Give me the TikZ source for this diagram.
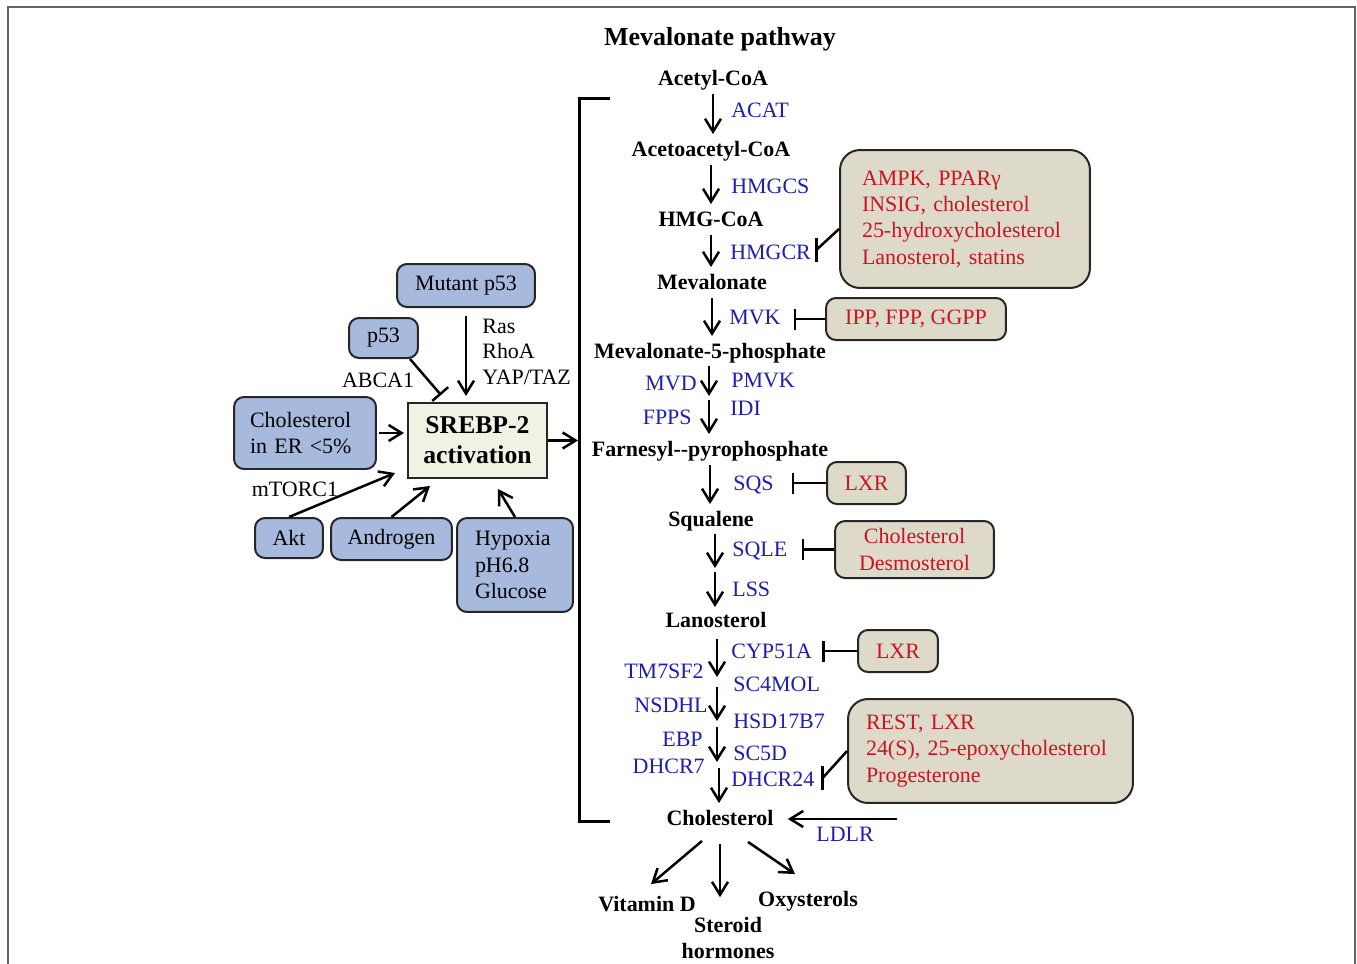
\documentclass[tikz,border=0pt]{standalone}
\usepackage{fontspec}
\setmainfont{Liberation Serif}
\usetikzlibrary{arrows.meta,calc}

\definecolor{enzblue}{RGB}{30,30,175}
\definecolor{inhred}{RGB}{200,20,35}
\definecolor{tanfill}{RGB}{222,218,202}
\definecolor{regblue}{RGB}{168,185,222}
\definecolor{srebpfill}{RGB}{242,242,228}
\definecolor{framegray}{RGB}{100,100,100}

\tikzset{
  met/.style={font=\fontsize{12.5}{15}\selectfont\bfseries, inner sep=0pt, text height=.75em, text depth=-.09em},
  enz/.style={text=enzblue, font=\fontsize{12.5}{15}\selectfont, inner sep=0pt, text height=.75em, text depth=-.09em},
  reg/.style={font=\fontsize{12.5}{14.5}\selectfont, inner sep=0pt},
  tanbox/.style={draw=black!85, line width=0.04cm, fill=tanfill, rounded corners=0.2cm, text=inhred, font=\fontsize{12.5}{15}\selectfont, inner sep=0pt},
  bluebox/.style={draw=black!85, line width=0.04cm, fill=regblue, rounded corners=0.2cm, font=\fontsize{12.5}{15}\selectfont, inner sep=0pt},
  conv/.style={-{Straight Barb[length=0.26cm,width=0.32cm]}, line width=0.05cm},
  inh/.style={-{Bar[width=0.42cm]}, line width=0.05cm},
}

\begin{document}
\begin{tikzpicture}[x=0.02cm,y=-0.02cm]
\useasboundingbox (0,0) rectangle (1357,964);
\draw[framegray, line width=0.04cm] (8,964) -- (8,7) -- (1355,7) -- (1355,964);

\node[font=\fontsize{14.8}{17}\selectfont\bfseries] (title) at (720,39) {Mevalonate pathway};

% pathway
\node[met] (acetyl) at (713,79) {Acetyl-CoA};
\node[met] (acac) at (711,150) {Acetoacetyl-CoA};
\node[met] (hmg) at (711,220) {HMG-CoA};
\node[met] (mev) at (712,283) {Mevalonate};
\node[met] (mfp) at (710,352) {Mevalonate-5-phosphate};
\node[met] (fpp) at (710,450) {Farnesyl-{}-pyrophosphate};
\node[met] (squal) at (711,520) {Squalene};
\node[met] (lano) at (716,621) {Lanosterol};
\node[met] (chol) at (720,819) {Cholesterol};
\node[met] (vitd) at (647,905) {Vitamin D};
\node[met] (oxy) at (808,900) {Oxysterols};
\node[font=\fontsize{12.5}{14.5}\selectfont\bfseries, inner sep=0pt, align=center] (steroid) at (728,938) {Steroid\\hormones};

\coordinate (k1) at (709,398);
\coordinate (k2) at (715,570);
\coordinate (k3) at (717,682);
\coordinate (k4) at (717,724);
\coordinate (k5) at (719,765);

\foreach \a/\b in {acetyl/acac,acac/hmg,hmg/mev,mev/mfp,fpp/squal}
  \draw[conv, shorten <=0.16cm, shorten >=0.18cm] (\a.south) -- (\a.south |- \b.north);
\draw[conv, shorten <=0.14cm, shorten >=0.04cm] (k1 |- mfp.south) -- (k1);
\draw[conv, shorten <=0.04cm, shorten >=0.18cm] (k1) -- (k1 |- fpp.north);
\draw[conv, shorten <=0.14cm, shorten >=0.04cm] (k2 |- squal.south) -- (k2);
\draw[conv, shorten <=0.04cm, shorten >=0.14cm] (k2) -- (k2 |- lano.north);
\draw[conv, shorten <=0.22cm, shorten >=0.1cm] (k3 |- lano.south) -- (k3);
\draw[conv, shorten <=0.1cm, shorten >=0.06cm] (k3) -- (k4);
\draw[conv, shorten <=0.06cm, shorten >=0.06cm] (k4) -- (k4 |- k5);
\draw[conv, shorten <=0.06cm, shorten >=0.18cm] (k5) -- (k5 |- chol.north);

% enzymes
\node[enz, anchor=west] (acat) at (731,111) {ACAT};
\node[enz, anchor=west] (hmgcs) at (731,187) {HMGCS};
\node[enz, anchor=west] (hmgcr) at (730,253) {HMGCR};
\node[enz, anchor=west] (mvk) at (729,318) {MVK};
\node[enz, anchor=east] (mvd) at (697,384) {MVD};
\node[enz, anchor=west] (pmvk) at (731,381) {PMVK};
\node[enz, anchor=east] (fpps) at (692,418) {FPPS};
\node[enz, anchor=west] (idi) at (730,409) {IDI};
\node[enz, anchor=west] (sqs) at (733,484) {SQS};
\node[enz, anchor=west] (sqle) at (732,550) {SQLE};
\node[enz, anchor=west] (lss) at (732,590) {LSS};
\node[enz, anchor=west] (cyp) at (731,652) {CYP51A};
\node[enz, anchor=east] (tm7) at (704,672) {TM7SF2};
\node[enz, anchor=west] (sc4) at (733,685) {SC4MOL};
\node[enz, anchor=east] (nsdhl) at (708,706) {NSDHL};
\node[enz, anchor=west] (hsd) at (733,722) {HSD17B7};
\node[enz, anchor=east] (ebp) at (703,740) {EBP};
\node[enz, anchor=west] (sc5) at (733,754) {SC5D};
\node[enz, anchor=east] (dhcr7) at (705,767) {DHCR7};
\node[enz, anchor=west] (dhcr24) at (731,780) {DHCR24};
\node[enz] (ldlr) at (845,835) {LDLR};

% inhibitors
\node[tanbox, rounded corners=0.4cm, align=left, text width=4.12cm, inner xsep=0.44cm, minimum height=2.76cm] (ampk) at (965,219)
  {AMPK, PPARγ\\INSIG, cholesterol\\25-hydroxycholesterol\\Lanosterol, statins};
\node[tanbox, minimum width=3.6cm, minimum height=0.84cm] (ipp) at (916,319) {IPP, FPP, GGPP};
\node[tanbox, minimum width=1.58cm, minimum height=0.84cm] (lxra) at (866.5,483) {LXR};
\node[tanbox, align=center, minimum width=3.18cm, minimum height=1.14cm] (chdes) at (914.5,549.5) {Cholesterol\\Desmosterol};
\node[tanbox, minimum width=1.6cm, minimum height=0.84cm] (lxrb) at (898,651) {LXR};
\node[tanbox, rounded corners=0.4cm, align=left, text width=4.98cm, inner xsep=0.36cm, minimum height=2.08cm] (rest) at (990.5,751)
  {REST, LXR\\24(S), 25-epoxycholesterol\\Progesterone};

\foreach \b/\e/\s in {ipp/mvk/0.26,lxra/sqs/0.36,chdes/sqle/0.28,lxrb/cyp/0.2}
  \draw[inh, shorten >=\s cm] (\b.west) -- (\e.east |- \b.west);

\coordinate (hb) at ($(hmgcr.east)+(5,-3)$);
\coordinate (db) at ($(dhcr24.east)+(8,-2)$);
\draw[line width=0.05cm] ([yshift=-0.2cm]ampk.west) -- (hb);
\draw[line width=0.05cm] ($(hb)+(0,-12)$) -- ($(hb)+(0,12)$);
\draw[line width=0.05cm] (rest.west) -- (db);
\draw[line width=0.05cm] ($(db)+(0,-12)$) -- ($(db)+(0,12)$);

% cholesterol uptake and products
\coordinate (ldin) at (897,819);
\draw[conv, shorten >=0.28cm] (ldin) -- (chol.east);
\draw[conv] ($(chol.south)+(-18,15)$) -- ($(vitd.north)+(4,-14)$);
\draw[conv, shorten <=0.36cm, shorten >=0.4cm] (chol.south) -- (chol.south |- steroid.north);
\draw[conv] ($(chol.south)+(28,16)$) -- ($(oxy.north)+(-13,-19)$);

% SREBP-2 regulation
\node[draw=black!85, line width=0.04cm, fill=srebpfill, minimum width=2.78cm, minimum height=1.5cm, align=center,
  font=\fontsize{14.6}{17}\selectfont\bfseries, inner sep=0pt] (srebp) at (477.5,440.5) {SREBP-2\\activation};
\node[bluebox, minimum width=2.76cm, minimum height=0.86cm] (mutp) at (466,285.5) {Mutant p53};
\node[bluebox, minimum width=1.38cm, minimum height=0.8cm] (pf) at (383.5,338) {p53};
\node[bluebox, align=left, text width=2.2cm, inner xsep=0.32cm, minimum height=1.44cm] (cher) at (305,433) {Cholesterol\\in ER <5\%};
\node[bluebox, minimum width=1.36cm, minimum height=0.8cm] (akt) at (289,538) {Akt};
\node[bluebox, minimum width=2.42cm, minimum height=0.84cm] (andro) at (391.5,539) {Androgen};
\node[bluebox, align=left, text width=1.6cm, inner xsep=0.36cm, minimum height=1.88cm] (hyp) at (515,565) {Hypoxia\\pH6.8\\Glucose};

\node[reg, anchor=west, align=left] (ras) at (482,351.5) {Ras\\RhoA\\YAP/TAZ};
\node[reg] (abca) at (378,380) {ABCA1};
\node[reg] (mtorc) at (295,489) {mTORC1};

\draw[conv, shorten <=0.16cm, shorten >=0.12cm] (mutp.south) -- (mutp.south |- srebp.north);
\draw[inh] ($(pf.south east)+(-9,0)$) -- ($(srebp.north)+(-36.5,-7)$);
\draw[conv, shorten <=0.04cm, shorten >=0.06cm] (cher.east) -- (cher.east -| srebp.west);
\draw[conv] (akt.north) -- ($(srebp.south west)+(-12,-6)$);
\draw[conv] (andro.north) -- ($(srebp.south)+(-47.5,7)$);
\draw[conv] (hyp.north) -- ($(srebp.south)+(20.5,10)$);

\coordinate (brt) at (610,98);
\coordinate (brm) at (579,440.5);
\coordinate (brb) at (610,821);
\draw[line width=0.06cm] (brt) -| (brm) |- (brb);
\draw[conv, shorten >=0.02cm] (srebp.east) -- (brm);
\end{tikzpicture}
\end{document}
